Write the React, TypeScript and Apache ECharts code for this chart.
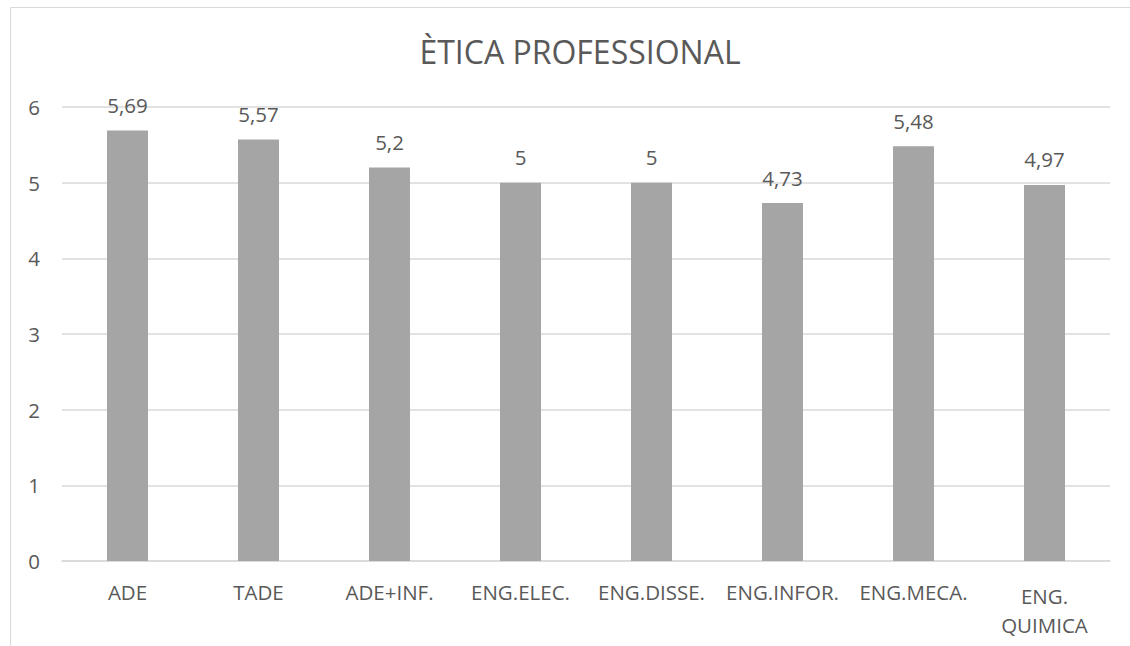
import React, { useEffect, useRef } from "react";
import * as echarts from "echarts";

const titleText = "ÈTICA PROFESSIONAL";
const categories = ["ADE", "TADE", "ADE+INF.", "ENG.ELEC.", "ENG.DISSE.", "ENG.INFOR.", "ENG.MECA.", "ENG.\nQUIMICA"];
const values = [5.69, 5.57, 5.2, 5, 5, 4.73, 5.48, 4.97];
const yTicks = [0, 1, 2, 3, 4, 5, 6];

const FONT = "'Open Sans', sans-serif";
const TEXT = "#595959";

export default function App() {
  const ref = useRef<HTMLDivElement>(null);
  useEffect(() => {
    if (!ref.current) return;
    const chart = echarts.init(ref.current, undefined, { renderer: "svg" });
    chart.setOption({
      animation: false,
      backgroundColor: "transparent",
      title: {
        text: titleText,
        left: 575,
        top: 30,
        textAlign: "center",
        textStyle: { fontFamily: FONT, fontSize: 32, fontWeight: "normal", color: TEXT },
      },
      graphic: [
        {
          type: "line",
          shape: { x1: 10.5, y1: 7.5, x2: 1130, y2: 7.5 },
          style: { stroke: "#d9d9d9", lineWidth: 1 },
          silent: true,
        },
        {
          type: "line",
          shape: { x1: 10.5, y1: 7.5, x2: 10.5, y2: 646 },
          style: { stroke: "#d9d9d9", lineWidth: 1 },
          silent: true,
        },
      ],
      grid: { left: 62, right: 20, top: 107, bottom: 85 },
      xAxis: {
        type: "category",
        data: categories.map((c) =>
          c.includes("\n") ? { value: c, textStyle: { padding: [4, 0, 0, 0] } } : c
        ),
        axisLine: { lineStyle: { color: "#d9d9d9", width: 1.5 } },
        axisTick: { show: false },
        axisLabel: {
          color: TEXT,
          fontFamily: FONT,
          fontSize: 20.5,
          margin: 16,
          lineHeight: 29,
          interval: 0,
        },
      },
      yAxis: {
        type: "value",
        min: yTicks[0],
        max: yTicks[yTicks.length - 1],
        interval: 1,
        axisLine: { show: false },
        axisTick: { show: false },
        splitLine: { lineStyle: { color: "#d9d9d9", width: 1.5 } },
        axisLabel: { color: TEXT, fontFamily: FONT, fontSize: 20.5, margin: 22 },
      },
      series: [
        {
          type: "bar",
          data: values,
          barWidth: 41,
          itemStyle: { color: "#a5a5a5" },
          label: {
            show: true,
            position: "top",
            distance: 15,
            color: TEXT,
            fontFamily: FONT,
            fontSize: 20.5,
            formatter: (p: any) => String(p.value).replace(".", ","),
          },
        },
      ],
    });
    return () => chart.dispose();
  }, []);
  return (
    <div
      ref={ref}
      style={{ position: "absolute", left: 0, top: 0, width: 1130, height: 646, background: "#fff" }}
    />
  );
}
